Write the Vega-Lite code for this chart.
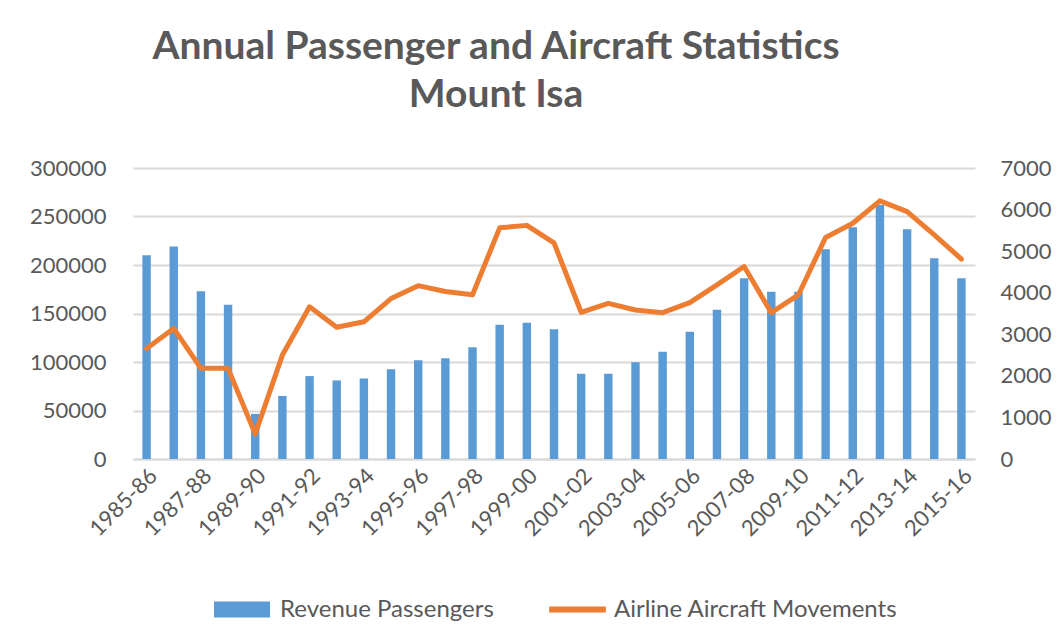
{
  "$schema": "https://vega.github.io/schema/vega-lite/v6.json",
  "width": 842,
  "height": 291,
  "autosize": "none",
  "padding": {"left": 133, "top": 168, "right": 86, "bottom": 183},
  "background": "white",
  "title": {
    "text": ["Annual Passenger and Aircraft Statistics", "Mount Isa"],
    "font": "Lato",
    "fontSize": 39,
    "fontWeight": "bold",
    "color": "#595959",
    "lineHeight": 48,
    "anchor": "middle",
    "frame": "group",
    "dx": -58,
    "offset": 42
  },
  "data": {
    "values": [
      {"year": "1985-86", "passengers": 210000, "movements": 2660},
      {"year": "1986-87", "passengers": 219000, "movements": 3140},
      {"year": "1987-88", "passengers": 173000, "movements": 2180},
      {"year": "1988-89", "passengers": 159000, "movements": 2180},
      {"year": "1989-90", "passengers": 46500, "movements": 600},
      {"year": "1990-91", "passengers": 65000, "movements": 2500},
      {"year": "1991-92", "passengers": 85500, "movements": 3660},
      {"year": "1992-93", "passengers": 81000, "movements": 3170},
      {"year": "1993-94", "passengers": 83000, "movements": 3300},
      {"year": "1994-95", "passengers": 92500, "movements": 3860},
      {"year": "1995-96", "passengers": 101800, "movements": 4170},
      {"year": "1996-97", "passengers": 103800, "movements": 4030},
      {"year": "1997-98", "passengers": 115200, "movements": 3950},
      {"year": "1998-99", "passengers": 138500, "movements": 5560},
      {"year": "1999-00", "passengers": 140500, "movements": 5620},
      {"year": "2000-01", "passengers": 133700, "movements": 5200},
      {"year": "2001-02", "passengers": 88000, "movements": 3530},
      {"year": "2002-03", "passengers": 88000, "movements": 3745},
      {"year": "2003-04", "passengers": 99700, "movements": 3585},
      {"year": "2004-05", "passengers": 110600, "movements": 3520},
      {"year": "2005-06", "passengers": 131200, "movements": 3760},
      {"year": "2006-07", "passengers": 153900, "movements": 4190},
      {"year": "2007-08", "passengers": 186300, "movements": 4630},
      {"year": "2008-09", "passengers": 172500, "movements": 3520},
      {"year": "2009-10", "passengers": 172500, "movements": 3950},
      {"year": "2010-11", "passengers": 216200, "movements": 5330},
      {"year": "2011-12", "passengers": 238900, "movements": 5670},
      {"year": "2012-13", "passengers": 261900, "movements": 6210},
      {"year": "2013-14", "passengers": 236800, "movements": 5950},
      {"year": "2014-15", "passengers": 206900, "movements": 5390},
      {"year": "2015-16", "passengers": 186300, "movements": 4810}
    ]
  },
  "encoding": {
    "x": {
      "field": "year",
      "type": "ordinal",
      "sort": null,
      "title": null,
      "scale": {"paddingInner": 0.69, "paddingOuter": 0.345},
      "axis": {
        "values": ["1985-86", "1987-88", "1989-90", "1991-92", "1993-94", "1995-96", "1997-98", "1999-00", "2001-02", "2003-04", "2005-06", "2007-08", "2009-10", "2011-12", "2013-14", "2015-16"],
        "labelAngle": -45,
        "labelFont": "Lato",
        "labelFontSize": 22,
        "labelColor": "#595959",
        "labelPadding": 6,
        "ticks": false,
        "domainColor": "#D9D9D9",
        "domainWidth": 2,
        "grid": false
      }
    }
  },
  "layer": [
    {
      "mark": {"type": "bar", "color": "#5B9BD5"},
      "encoding": {
        "y": {
          "field": "passengers",
          "type": "quantitative",
          "title": null,
          "scale": {"domain": [0, 300000]},
          "axis": {
            "values": [0, 50000, 100000, 150000, 200000, 250000, 300000],
            "format": "d",
            "labelFont": "Lato",
            "labelFontSize": 22,
            "labelColor": "#595959",
            "labelPadding": 27,
            "ticks": false,
            "domain": false,
            "grid": true,
            "gridColor": "#D9D9D9",
            "gridWidth": 2
          }
        },
        "fill": {
          "datum": "Revenue Passengers",
          "type": "nominal",
          "scale": {"range": ["#5B9BD5"]},
          "legend": {
            "orient": "bottom",
            "title": null,
            "symbolType": "M-0.905,-0.159H0.683V0.159H-0.905Z",
            "symbolSize": 3969,
            "symbolStrokeWidth": 6,
            "symbolStrokeColor": "#5B9BD5",
            "labelOffset": 0,
            "labelLimit": 500,
            "labelFont": "Lato",
            "labelFontSize": 24,
            "labelColor": "#595959",
            "offset": 35
          }
        }
      }
    },
    {
      "mark": {"type": "line", "strokeWidth": 5, "strokeCap": "round", "strokeJoin": "round"},
      "encoding": {
        "y": {
          "field": "movements",
          "type": "quantitative",
          "title": null,
          "scale": {"domain": [0, 7000]},
          "axis": {
            "orient": "right",
            "values": [0, 1000, 2000, 3000, 4000, 5000, 6000, 7000],
            "format": "d",
            "labelFont": "Lato",
            "labelFontSize": 22,
            "labelColor": "#595959",
            "labelPadding": 25,
            "ticks": false,
            "domain": false,
            "grid": false
          }
        },
        "stroke": {
          "datum": "Airline Aircraft Movements",
          "type": "nominal",
          "scale": {"range": ["#ED7D31"]},
          "legend": {
            "orient": "bottom",
            "title": null,
            "symbolType": "M-0.9,0H0.9",
            "symbolSize": 3969,
            "symbolStrokeWidth": 6,
            "labelOffset": 2,
            "labelLimit": 500,
            "labelFont": "Lato",
            "labelFontSize": 24,
            "labelColor": "#595959",
            "offset": 35
          }
        }
      }
    }
  ],
  "resolve": {"scale": {"y": "independent"}},
  "config": {
    "view": {"stroke": null},
    "legend": {"layout": {"bottom": {"anchor": "middle", "direction": "horizontal", "margin": 49}}}
  }
}
